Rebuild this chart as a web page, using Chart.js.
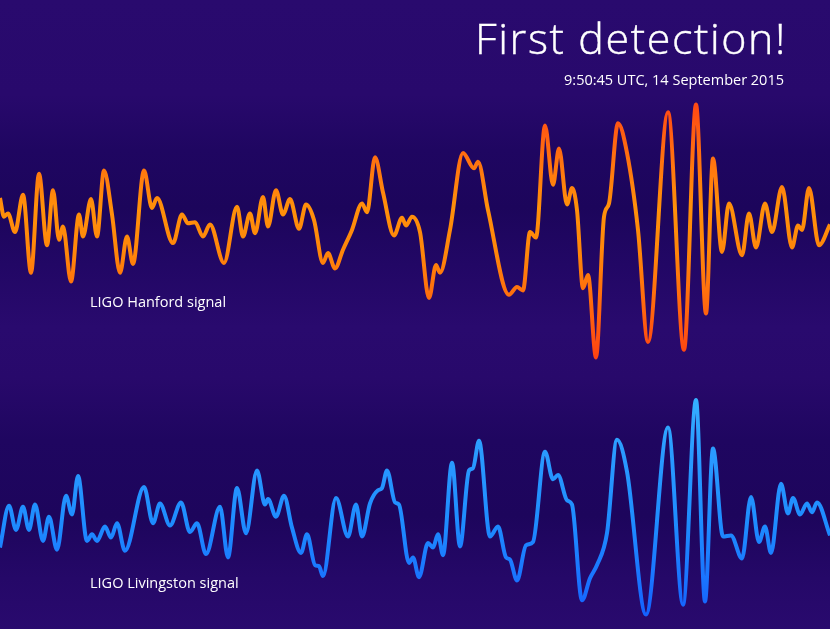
<!DOCTYPE html>
<html>
<head>
<meta charset="utf-8">
<script src="https://cdn.jsdelivr.net/npm/chart.js@4/dist/chart.umd.min.js"></script>
<style>
  html, body { margin: 0; padding: 0; background: #290a6e; }
  #wrap { position: relative; width: 830px; height: 629px; overflow: hidden; }
  canvas { position: absolute; left: 0; top: 0; }
  .txt { position: absolute; color: #ffffff; white-space: nowrap; font-family: "Open Sans", "DejaVu Sans", sans-serif; }
  #title { right: 43px; top: 8px; font-size: 43px; font-weight: 300; letter-spacing: 1.6px; -webkit-text-stroke: 0.4px #ffffff; }
  #subtitle { right: 46px; top: 70px; font-size: 14.5px; }
  #lblH { left: 90px; top: 292px; font-size: 14.5px; }
  #lblL { left: 90px; top: 573px; font-size: 14.5px; }
</style>
</head>
<body>
<div id="wrap">
  <canvas id="c" width="830" height="629"></canvas>
  <div class="txt" id="title">First detection!</div>
  <div class="txt" id="subtitle">9:50:45 UTC, 14 September 2015</div>
  <div class="txt" id="lblH">LIGO Hanford signal</div>
  <div class="txt" id="lblL">LIGO Livingston signal</div>
</div>
<script>
// Time in ms, strain in units of 1e-21
const hanfordTime = [0,1,2,3.75,5.75,7.75,9.75,11.75,13.25,14.75,15.75,17.75,19.75,20.75,22.75,24.25,26,28,30,31.75,33.25,36,38,39.25,43.25,45.5,47,48.75,50.75,52.5,56,59.25,60.75,62.5,63.75,65.75,67,69,70.75,72.5,74.75,76.5,78.5,80.75,82,83.75,85.75,88,90.5,91.75,93.75,95.75,98.5,100.5,101.5,103,105,107.25,109,110,112.5,115.75,118.5,119.5,122,127.25,129.25,130.75,132.5,134,136.25,138.25,139.75,141.75,143,144.25,145.75,147,149,151,152.25,154.5,156.75,159.5,162,167,171,174,176.5,178.25,180.5,182.25,185.5,187.25,189,191.25,193,195.5,198,199.5,200.5,202.25,204.75,207.5];
const hanfordStrain = [0.20,0.03,0.06,-0.11,0.23,-0.48,0.42,-0.23,0.27,-0.18,-0.06,-0.56,0.05,-0.15,0.19,-0.15,0.45,0.05,-0.48,-0.15,-0.40,0.45,0.11,0.20,-0.21,0.05,-0.03,-0.02,-0.15,-0.04,-0.39,0.12,-0.15,0.06,-0.12,0.21,-0.06,0.27,0.05,0.19,-0.08,0.14,0.00,-0.39,-0.30,-0.44,-0.27,-0.09,0.15,0.07,0.57,0.25,-0.14,0.02,-0.05,0.03,-0.11,-0.71,-0.41,-0.48,-0.09,0.61,0.47,0.53,0.09,-0.68,-0.61,-0.64,-0.11,-0.16,0.86,0.32,0.65,0.14,0.29,0.09,-0.62,-0.50,-1.25,0.03,0.15,0.88,0.61,-0.09,-1.11,0.98,-1.18,1.05,-0.85,0.56,-0.29,0.15,-0.32,0.06,-0.25,0.15,-0.11,0.30,-0.25,-0.05,-0.09,0.29,-0.23,-0.04];

const livingstonTime = [0,2.25,4,5.75,7.25,8.75,10.75,12.25,14.25,16.5,18,19.5,21.75,23,24.25,26.25,27.75,29.25,31.25,36,38.25,40,42.5,45.25,47.5,49.25,51.5,55,57,59.25,61.5,64.25,66.25,67,69,71,73,75.25,76.75,78.75,79.75,80.75,84,87,89,90.5,92.5,94.5,95.5,96.75,98.75,99.75,102.25,103.25,104.75,107,108.25,109.5,110.75,113,115,117.25,118.25,119.75,122.5,124.5,126.5,127.5,129.25,131.5,133.25,136.25,138.25,139.5,141.75,143,145.5,147.5,149.25,151.75,154.25,156.75,161.5,167,170.75,174,176.25,178.25,180.75,182.75,185.5,187.75,189.75,191.25,192.75,195.25,197,198.25,200,201.75,203,204.25,207.5];
const livingstonStrain = [-0.25,0.13,-0.09,0.12,-0.09,0.14,-0.19,0.03,-0.27,0.22,0.05,0.40,-0.19,-0.13,-0.19,-0.06,-0.16,-0.03,-0.28,0.30,-0.03,0.15,-0.05,0.16,-0.11,-0.03,-0.31,0.12,-0.34,0.29,-0.12,0.45,0.14,0.19,0.03,0.22,-0.07,-0.30,-0.13,-0.41,-0.42,-0.51,0.20,-0.15,0.14,-0.15,0.15,0.27,0.29,0.45,0.16,0.14,-0.39,-0.34,-0.52,-0.21,-0.25,-0.13,-0.32,0.52,-0.24,0.45,0.47,0.72,-0.15,-0.06,-0.34,-0.36,-0.55,-0.23,-0.20,0.62,0.37,0.41,0.18,0.14,-0.73,-0.53,-0.41,-0.12,0.73,0.44,-0.86,0.84,-0.77,1.09,-0.74,0.65,-0.15,-0.14,-0.35,0.21,-0.20,-0.06,-0.30,0.33,0.06,0.20,0.05,0.15,0.07,0.16,-0.14];

const seriesLabels = ["LIGO Hanford signal", "LIGO Livingston signal"];

function pts(t, s) { return t.map((v, i) => ({ x: v, y: s[i] })); }

function vGrad(ctx, chart, stops) {
  const g = ctx.createLinearGradient(0, 0, 0, chart.height);
  stops.forEach(s => g.addColorStop(s[0], s[1]));
  return g;
}

const bgPlugin = {
  id: 'bg',
  beforeDraw(chart) {
    const ctx = chart.ctx;
    ctx.save();
    ctx.fillStyle = vGrad(ctx, chart, [
      [0, '#290a6e'], [0.15, '#28096c'], [0.24, '#1f0661'], [0.33, '#1c055b'],
      [0.42, '#220765'], [0.52, '#290a6e'], [0.60, '#28096b'], [0.70, '#1f0660'],
      [0.82, '#1d055c'], [0.92, '#250868'], [1, '#290a6e']
    ]);
    ctx.fillRect(0, 0, chart.width, chart.height);
    ctx.restore();
  }
};

const ctx = document.getElementById('c').getContext('2d');
new Chart(ctx, {
  type: 'line',
  data: {
    datasets: [
      {
        label: seriesLabels[0],
        data: pts(hanfordTime, hanfordStrain),
        yAxisID: 'yH',
        borderWidth: 4,
        pointRadius: 0,
        cubicInterpolationMode: 'monotone',
        borderColor: (c) => vGrad(c.chart.ctx, c.chart, [
          [0.17, '#ff4a14'], [0.25, '#ff7010'], [0.33, '#ff900a'], [0.40, '#ff860a'], [0.48, '#ff6a0e'], [0.57, '#ff4212']
        ])
      },
      {
        label: seriesLabels[1],
        data: pts(livingstonTime, livingstonStrain),
        yAxisID: 'yL',
        borderWidth: 4,
        pointRadius: 0,
        cubicInterpolationMode: 'monotone',
        borderColor: (c) => vGrad(c.chart.ctx, c.chart, [
          [0.62, '#36b4ff'], [0.72, '#2a9aff'], [0.83, '#1e8cff'], [0.92, '#1a74ff'], [0.98, '#1460ff']
        ])
      }
    ]
  },
  options: {
    responsive: false,
    animation: false,
    layout: { padding: 0 },
    plugins: { legend: { display: false }, tooltip: { enabled: false } },
    scales: {
      x: { type: 'linear', display: false, min: 0, max: 207.5 },
      yH: { type: 'linear', display: false, min: -3.718, max: 2.0 },
      yL: { type: 'linear', display: false, min: -0.991, max: 4.727 }
    }
  },
  plugins: [bgPlugin]
});
</script>
</body>
</html>
